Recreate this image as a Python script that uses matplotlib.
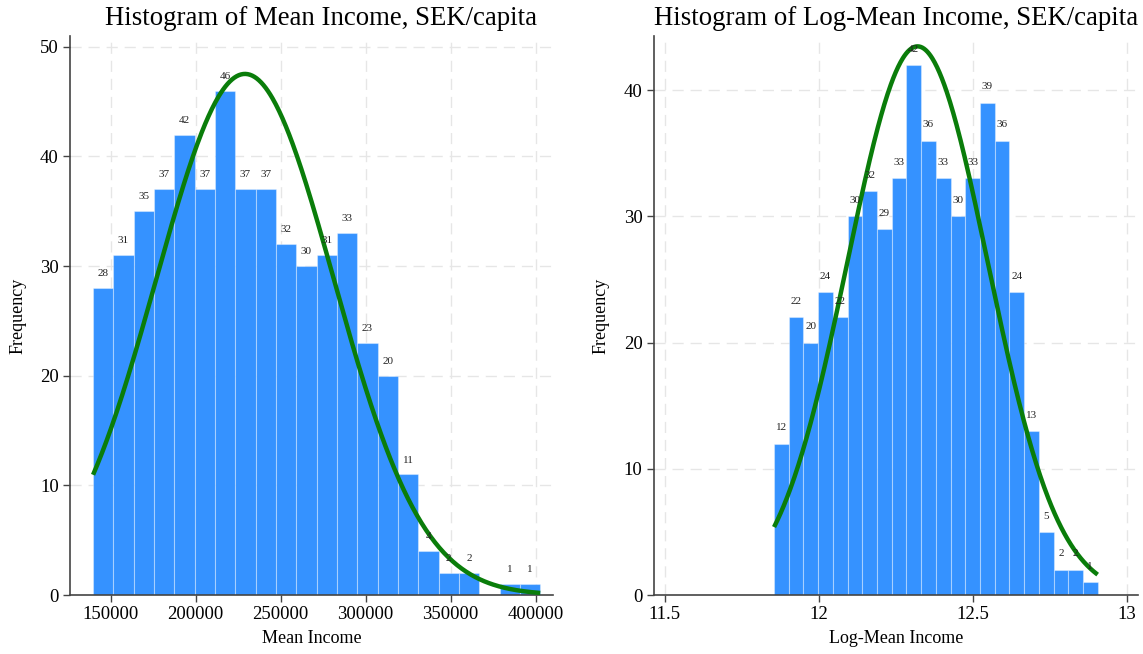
import numpy as np
import matplotlib
matplotlib.use("Agg")
import matplotlib.pyplot as plt

plt.rcParams['font.family'] = ['Liberation Serif', 'DejaVu Serif']

# ---- data ----
income_min, income_max = 139600, 402700
income_counts = [28, 31, 35, 37, 42, 37, 46, 37, 37, 32, 30, 31, 33, 23, 20, 11, 4, 2, 2, 0, 1, 1]
income_fit_mean, income_fit_sd = 229000, 52200
income_xticks = [150000, 200000, 250000, 300000, 350000, 400000]
income_yticks = [0, 10, 20, 30, 40, 50]

log_min, log_max = 11.855, 12.906
log_counts = [12, 22, 20, 24, 22, 30, 32, 29, 33, 42, 36, 33, 30, 33, 39, 36, 24, 13, 5, 2, 2, 1]
log_fit_mean, log_fit_sd = 12.321, 0.228
log_xticks = [11.5, 12, 12.5, 13]
log_yticks = [0, 10, 20, 30, 40]

BAR = '#3592ff'
GREEN = '#0a7d0a'
GRID = '#e6e6e6'


def panel(ax, lo, hi, counts, mu, sd, xticks, yticks, xlim, ylim, title, xlabel, xfmt, title_x):
    counts = np.array(counts, dtype=float)
    n = len(counts)
    edges = np.linspace(lo, hi, n + 1)
    bw = edges[1] - edges[0]
    for x in xticks:
        ax.axvline(x, color=GRID, lw=1.0, dashes=(8, 5), zorder=0)
    for y in yticks[1:]:
        ax.axhline(y, color=GRID, lw=1.0, dashes=(8, 5), zorder=0)
    ax.bar(edges[:-1], counts, width=bw, align='edge', color=BAR,
           edgecolor=(1, 1, 1, 0.35), linewidth=0.8, zorder=2)
    for xl, c in zip(edges[:-1], counts):
        if c > 0:
            ax.text(xl + bw / 2, c + 0.9, f"{int(c)}", ha='center', va='bottom',
                    fontsize=8, color='#222222', zorder=4)
    xs = np.linspace(lo, hi, 400)
    total = counts.sum()
    ys = total * bw * np.exp(-0.5 * ((xs - mu) / sd) ** 2) / (sd * np.sqrt(2 * np.pi))
    ax.plot(xs, ys, color=GREEN, lw=3.2, zorder=3, solid_capstyle='butt')
    ax.set_xlim(*xlim)
    ax.set_ylim(*ylim)
    ax.set_xticks(xticks)
    ax.set_xticklabels([xfmt(x) for x in xticks])
    ax.set_yticks(yticks)
    for s in ['top', 'right']:
        ax.spines[s].set_visible(False)
    for s in ['left', 'bottom']:
        ax.spines[s].set_color('#444444')
        ax.spines[s].set_linewidth(1.2)
    ax.tick_params(axis='both', direction='out', length=5, width=1.0, color='#444444',
                   labelsize=13.5, pad=3)
    ax.set_title(title, fontsize=19.3, pad=8, x=title_x)
    ax.set_xlabel(xlabel, fontsize=13, labelpad=5)
    ax.set_ylabel('Frequency', fontsize=13, labelpad=10)


fig = plt.figure(figsize=(11.43, 6.54), dpi=100)
ax1 = fig.add_axes([0.0612, 0.0902, 0.4226, 0.855])
ax2 = fig.add_axes([0.5719, 0.0902, 0.4237, 0.855])

panel(ax1, income_min, income_max, income_counts, income_fit_mean, income_fit_sd,
      income_xticks, income_yticks, (126000, 410200), (0, 51.0),
      'Histogram of Mean Income, SEK/capita', 'Mean Income', lambda v: f"{int(v)}", 0.52)
panel(ax2, log_min, log_max, log_counts, log_fit_mean, log_fit_sd,
      log_xticks, log_yticks, (11.464, 13.037), (0, 44.3),
      'Histogram of Log-Mean Income, SEK/capita', 'Log-Mean Income',
      lambda v: f"{v:g}", 0.5)

fig.savefig('out.png', dpi=100)
